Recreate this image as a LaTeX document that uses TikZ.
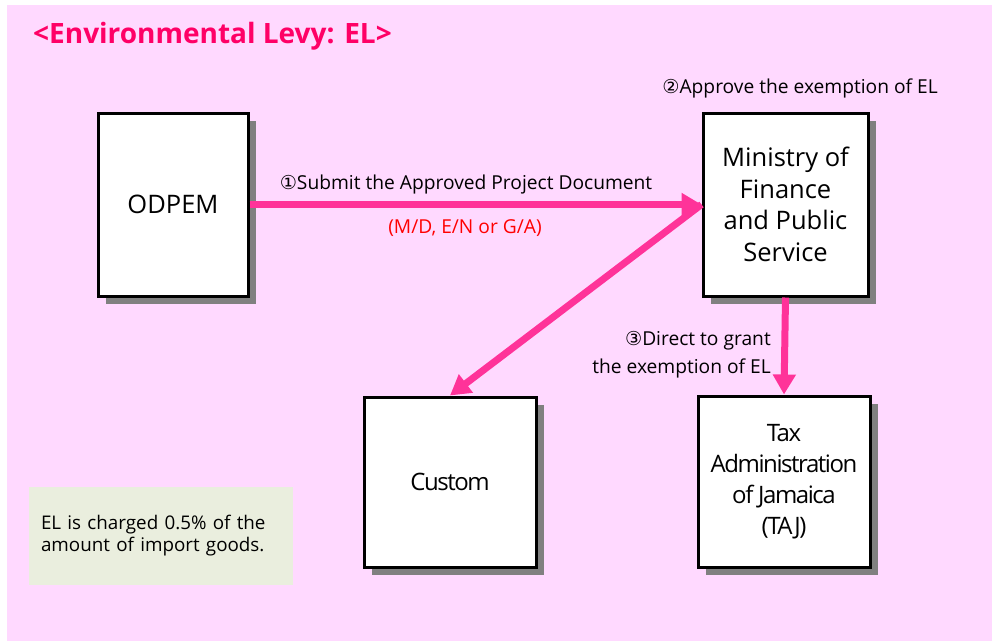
\documentclass[tikz,border=0pt]{standalone}
\usepackage{fontspec}
\setmainfont{Open Sans}
\newfontfamily\tightfont[LetterSpace=-6]{Open Sans}
\newfontfamily\circfont{DejaVu Sans}
\usetikzlibrary{arrows.meta, positioning, shadows}

\definecolor{bgpink}{HTML}{FFD9FF}
\definecolor{titlered}{HTML}{FF0066}
\definecolor{flowpink}{HTML}{FF3399}
\definecolor{notegreen}{HTML}{EAEEDE}

\tikzset{
  orgbox/.style={draw=black, line width=3pt, fill=white, align=center,
                 font=\fontsize{25.5}{31.5}\selectfont, inner sep=2pt,
                 drop shadow={shadow xshift=8pt, shadow yshift=-8pt,
                              fill=black!50, opacity=1}},
  tightbox/.style={orgbox, font=\tightfont\fontsize{24}{31}\selectfont},
  flow/.style={draw=flowpink, line width=7pt,
               -{Triangle[length=20pt, width=22pt]}},
  steplabel/.style={font=\fontsize{19.2}{28}\selectfont, inner sep=0pt},
}

\begin{document}
\begin{tikzpicture}[x=1pt, y=-1pt]
%% Background
\useasboundingbox (0,0) rectangle (992,641);
\fill[bgpink] (7,5) rectangle (992,641);

%% Title
\node[anchor=west, text=titlered, inner sep=0pt,
      font=\fontsize{28}{32}\selectfont\bfseries] (title) at (33,36)
  {<Environmental Levy: EL>};

%% Organisations
\node[orgbox, minimum width=150pt, minimum height=183pt] (odpem) at (173,204.5) {ODPEM};
\node[orgbox, minimum width=165pt, minimum height=183pt] (mof) at (785.5,204.5)
  {Ministry of\\Finance\\and Public\\Service};
\node[tightbox, minimum width=172pt, minimum height=170pt] (custom) at (450,482) {Custom};
\node[tightbox, minimum width=172pt, minimum height=171pt] (taj) at (784,481.5)
  {Tax\\Administration\\of Jamaica\\(TAJ)};

%% Note
\node[fill=notegreen, minimum width=264pt, minimum height=98pt, text width=240pt,
      align=left, font=\fontsize{18.8}{22}\selectfont] (note) at (161,536)
  {EL is charged 0.5\% of the\\amount of import goods.};

%% Flows
\draw[flow] (odpem.east) -- (mof.west);
\draw[flow] (mof.west) -- (custom.north);
\draw[flow] (mof.south) -- (taj.north);

%% Step labels
\node[steplabel] (step1) at (466,185)
  {{\circfont ①}Submit the Approved Project Document};
\node[steplabel, text=red] (step1b) at (465,228) {(M/D, E/N or G/A)};
\node[steplabel, anchor=east] (step2) at (938,88)
  {{\circfont ②}Approve the exemption of EL};
\node[steplabel, anchor=east, align=right] (step3) at (771,355)
  {{\circfont ③}Direct to grant\\the exemption of EL};
\end{tikzpicture}
\end{document}
